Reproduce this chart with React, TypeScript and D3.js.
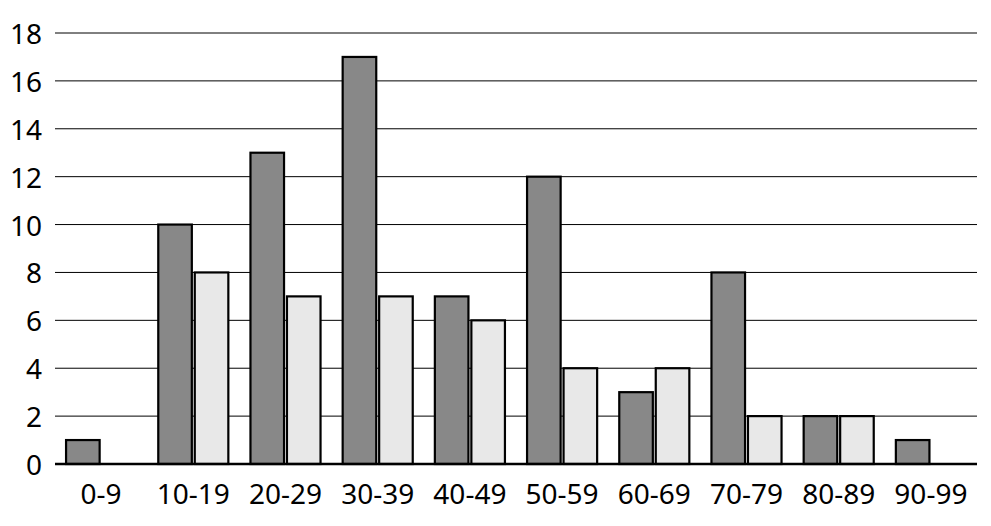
import React from "react";
import * as d3 from "d3";

const categories = ["0-9", "10-19", "20-29", "30-39", "40-49", "50-59", "60-69", "70-79", "80-89", "90-99"];
const seriesA = [1, 10, 13, 17, 7, 12, 3, 8, 2, 1];
const seriesB = [0, 8, 7, 7, 6, 4, 4, 2, 2, 0];
const yTicks = [0, 2, 4, 6, 8, 10, 12, 14, 16, 18];

const W = 991;
const H = 526;
const M = { left: 55, right: 14, top: 33, bottom: 62 };

export default function App() {
  const x0 = d3
    .scaleBand<string>()
    .domain(categories)
    .range([M.left, W - M.right])
    .paddingInner(0.24)
    .paddingOuter(0.12);
  const keys = ["a", "b"];
  const x1 = d3.scaleBand<string>().domain(keys).range([0, x0.bandwidth()]).paddingInner(0.08);
  const y = d3.scaleLinear().domain([0, 18]).range([H - M.bottom, M.top]);
  const font = "'Noto Sans', 'Open Sans', sans-serif";
  const series = [
    { key: "a", values: seriesA, fill: "#888888" },
    { key: "b", values: seriesB, fill: "#e8e8e8" },
  ];
  return (
    <div style={{ position: "fixed", left: 0, top: 0 }}>
      <svg width={W} height={H} style={{ display: "block", background: "#fff" }}>
        {yTicks.map((t) => (
          <g key={t}>
            {t !== 0 && (
              <line x1={M.left} x2={W - M.right} y1={y(t)} y2={y(t)} stroke="#000" strokeWidth={1} />
            )}
            <text
              x={42}
              y={y(t)}
              textAnchor="end"
              dominantBaseline="central"
              fontFamily={font}
              fontSize={28}
              fill="#000"
            >
              {t}
            </text>
          </g>
        ))}
        {series.map((s) =>
          categories.map((c, i) => {
            const v = s.values[i];
            if (!v) return null;
            const bx = (x0(c) as number) + (x1(s.key) as number);
            return (
              <rect
                key={s.key + c}
                x={bx}
                y={y(v)}
                width={x1.bandwidth()}
                height={y(0) - y(v)}
                fill={s.fill}
                stroke="#000"
                strokeWidth={2.2}
              />
            );
          })
        )}
        <line x1={M.left} x2={W - M.right} y1={y(0)} y2={y(0)} stroke="#000" strokeWidth={2.5} />
        {categories.map((c) => (
          <text
            key={c}
            x={(x0(c) as number) + x0.bandwidth() / 2}
            y={493}
            textAnchor="middle"
            dominantBaseline="central"
            fontFamily={font}
            fontSize={28}
            fill="#000"
          >
            {c}
          </text>
        ))}
      </svg>
    </div>
  );
}
